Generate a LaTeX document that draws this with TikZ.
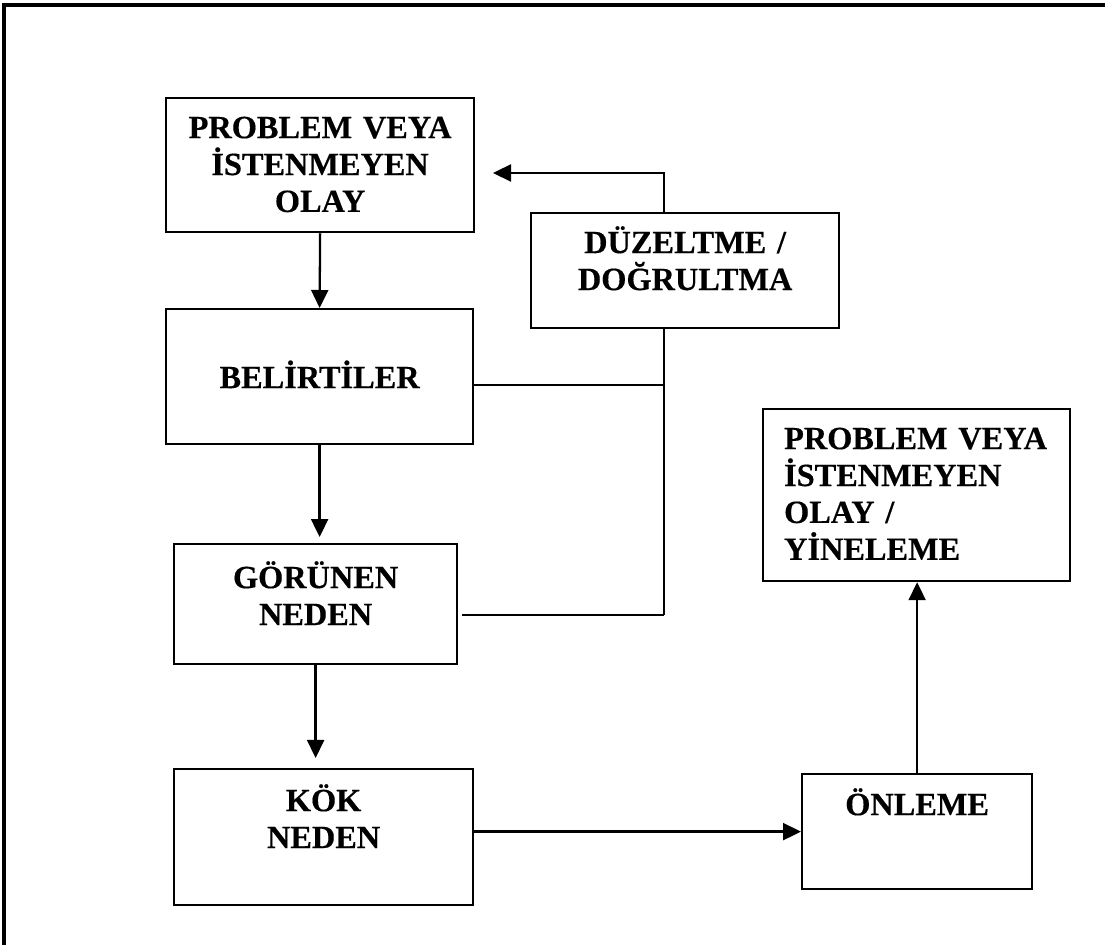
\documentclass[tikz,border=0pt]{standalone}
\usepackage{fontspec}
\setmainfont{Liberation Serif}[BoldFeatures={FakeBold=0.4}]
\usepackage{tikz}
\usetikzlibrary{arrows.meta}

\begin{document}
\begin{tikzpicture}[x=0.02cm,y=-0.02cm,line width=1.3pt,
	every node/.style={draw,line width=1.3pt,inner sep=0pt,anchor=north west,align=center,font=\bfseries\fontsize{18.4}{21}\selectfont},
	ok/.style={-{Triangle[length=0.36cm,width=0.34cm]}}]
\useasboundingbox (0,0) rectangle (1105,945);

%frame
\draw[line width=1.8pt] (4,945) -- (4,5) -- (1105,5);

%boxes
\node (prob) at (165,97) [text width=6.16cm,text height=0.80cm,text depth=1.88cm] {PROBLEM VEYA\\İSTENMEYEN\\OLAY};
\node (belirti) at (165,308) [text width=6.14cm,text height=1.58cm,text depth=1.12cm] {BELİRTİLER};
\node (gorunen) at (173,543) [text width=5.66cm,text height=0.88cm,text depth=1.52cm] {GÖRÜNEN\\NEDEN};
\node (kok) at (173,768) [text width=5.98cm,text height=0.84cm,text depth=1.88cm] {KÖK\\NEDEN};
\node (onleme) at (801,773) [text width=4.60cm,text height=0.82cm,text depth=1.48cm] {ÖNLEME};
\node (tekrar) at (762,408) [inner xsep=0.42cm,align=left,text width=5.30cm,text height=0.80cm,text depth=2.64cm] {PROBLEM VEYA\\İSTENMEYEN\\OLAY /\\YİNELEME};
\node (duzelt) at (530,212) [text width=6.16cm,text height=0.80cm,text depth=1.50cm] {DÜZELTME /\\DOĞRULTMA};

%junctions
\coordinate (j1) at (664,385);
\coordinate (j2) at (664,615);
\coordinate (j3) at (664,173);
\coordinate (geri) at (493,173);

%arrows
\draw[ok] (prob.south) -- (belirti.north);
\draw[ok,shorten >=3.4pt] (belirti.south) -- (belirti.south |- gorunen.north);
\draw[ok,shorten >=5.7pt] (gorunen.south) -- (gorunen.south |- kok.north);
\draw[ok] (onleme.west -| kok.east) -- (onleme.west);
\draw[ok] (onleme.north) -- (onleme.north |- tekrar.south);

%feedback
\draw (j1 -| belirti.east) -- (j1);
\draw[shorten <=2.3pt] (j2 -| gorunen.east) -- (j2);
\draw (j1 |- duzelt.south) -- (j2);
\draw[ok] (j3 |- duzelt.north) -- (j3) -- (geri);
\end{tikzpicture}
\end{document}
